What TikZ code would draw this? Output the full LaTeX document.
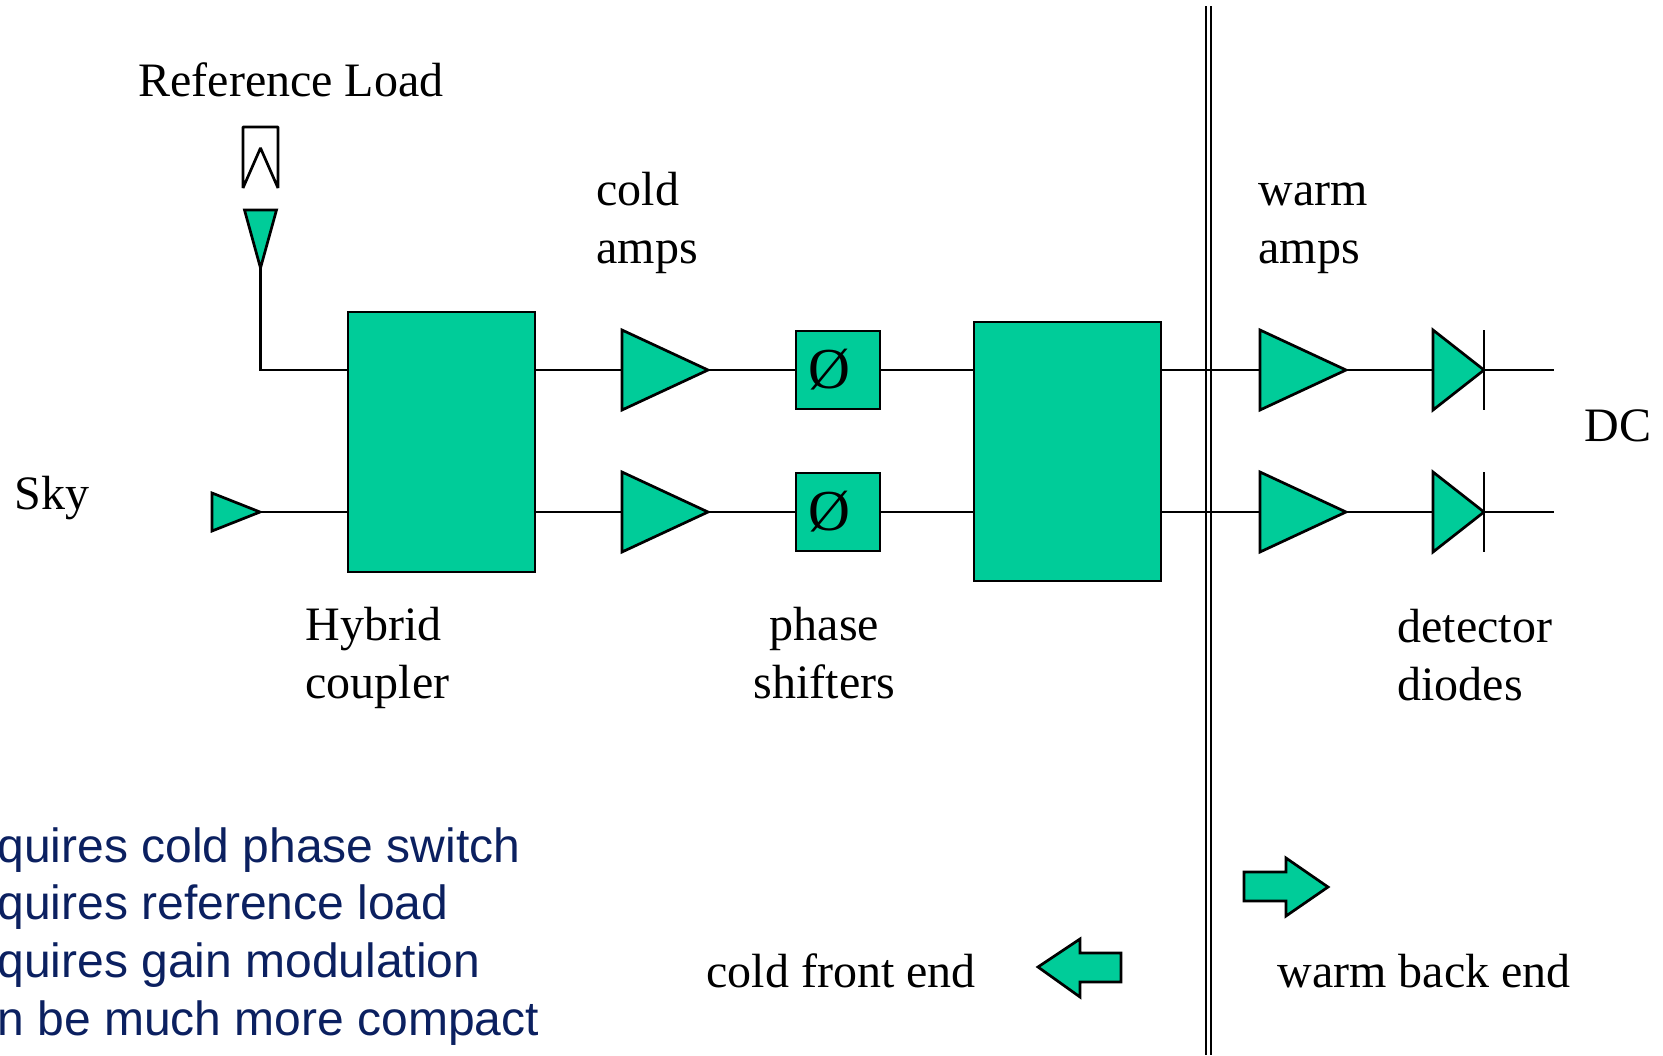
\documentclass[tikz,border=0pt]{standalone}
\usepackage{fontspec}
\setmainfont{Liberation Serif}
\newfontfamily\notefont{Liberation Sans}
\usetikzlibrary{shapes.geometric}
\definecolor{boxgreen}{HTML}{00CC99}
\definecolor{noteblue}{HTML}{0B2060}
\tikzset{
  wire/.style={line width=1.35pt},
  block/.style={draw, line width=1.35pt, fill=boxgreen, rectangle, inner sep=0pt, outer sep=0pt},
  phasebox/.style={block, minimum width=42pt, minimum height=39pt, font=\fontsize{29}{29}\selectfont},
  tri/.style={draw, line width=1.35pt, fill=boxgreen, isosceles triangle, isosceles triangle stretches, inner sep=0pt, outer sep=0pt, anchor=lower side},
  amp/.style={tri, minimum height=43pt, minimum width=40pt},
  diode/.style={tri, minimum height=25.5pt, minimum width=40pt},
  label/.style={inner sep=0pt, anchor=base west, align=left, font=\fontsize{24}{29}\selectfont},
  note/.style={label, text=noteblue, font=\fontsize{24}{29}\selectfont\notefont},
}
\begin{document}
\begin{tikzpicture}[x=0.5pt, y=-0.5pt]
    \useasboundingbox (0,0) rectangle (1663,1055);

    % reference load and its horn
    \draw[wire, line join=bevel] (243,188) -- (243,127) -- (278,127) -- (278,188) -- (260.5,148) -- cycle;
    \node[tri, minimum height=29pt, minimum width=16pt, shape border rotate=270] (refhorn) at (260.5,210) {};
    \node[tri, minimum height=24pt, minimum width=19pt] (skyhorn) at (212,512) {};

    % blocks
    \node[block, minimum width=93.5pt, minimum height=130pt] (hybrida) at (441.5,442) {};
    \node[block, minimum width=93.5pt, minimum height=129.5pt] (hybridb) at (1067.5,451.5) {};
    \node[phasebox] (phasea) at (838,370) {\kern-9pt Ø};
    \node[phasebox] (phaseb) at (838,512) {\kern-9pt Ø};

    % amplifiers and diodes
    \node[amp] (coldampa) at (622,370) {};
    \node[amp] (coldampb) at (622,512) {};
    \node[amp] (warmampa) at (1260,370) {};
    \node[amp] (warmampb) at (1260,512) {};
    \node[diode] (diodea) at (1433,370) {};
    \node[diode] (diodeb) at (1433,512) {};
    \coordinate (outa) at (1554,370);
    \coordinate (outb) at (1554,512);

    % connectors
    \draw[wire] (refhorn.apex) |- (hybrida.west |- coldampa.lower side);
    \draw[wire] (skyhorn.apex) -- (hybrida.west |- skyhorn.apex);
    \draw[wire] (hybrida.east |- coldampa.lower side) -- (coldampa.lower side);
    \draw[wire] (hybrida.east |- coldampb.lower side) -- (coldampb.lower side);
    \draw[wire] (coldampa.apex) -- (phasea.west);
    \draw[wire] (coldampb.apex) -- (phaseb.west);
    \draw[wire] (phasea.east) -- (hybridb.west |- phasea.east);
    \draw[wire] (phaseb.east) -- (hybridb.west |- phaseb.east);
    \draw[wire] (hybridb.east |- warmampa.lower side) -- (warmampa.lower side);
    \draw[wire] (hybridb.east |- warmampb.lower side) -- (warmampb.lower side);
    \draw[wire] (warmampa.apex) -- (diodea.lower side);
    \draw[wire] (warmampb.apex) -- (diodeb.lower side);
    \draw[wire] (diodea.apex) -- (outa);
    \draw[wire] (diodeb.apex) -- (outb);
    \draw[wire] (diodea.apex |- diodea.left corner) -- (diodea.apex |- diodea.right corner);
    \draw[wire] (diodeb.apex |- diodeb.left corner) -- (diodeb.apex |- diodeb.right corner);

    % cold/warm boundary
    \coordinate (walltopa) at (1206,6);
    \coordinate (walltopb) at (1211,6);
    \coordinate (wallenda) at (1206,1055);
    \coordinate (wallendb) at (1211,1055);
    \draw[wire] (walltopa) -- (wallenda);
    \draw[wire] (walltopb) -- (wallendb);

    % direction arrows
    \draw[wire, fill=boxgreen, line join=miter] (1244,872) -- (1286,872) -- (1286,858) -- (1328,887) -- (1286,916) -- (1286,901) -- (1244,901) -- cycle;
    \draw[wire, fill=boxgreen, line join=miter] (1121,953) -- (1080,953) -- (1080,939) -- (1038,967) -- (1080,997) -- (1080,982) -- (1121,982) -- cycle;

    % labels
    \node[label] (reflabel) at (138,96) {Reference Load};
    \node[label] (coldlabel) at (596,263) {cold\\amps};
    \node[label] (warmlabel) at (1258,263) {warm\\amps};
    \node[label] (skylabel) at (14,509) {Sky};
    \node[label] (hybridlabel) at (305,698) {Hybrid\\coupler};
    \node[label, align=center, anchor=base] (phaselabel) at (824.5,698) {phase\\shifters};
    \node[label] (detlabel) at (1397,700) {detector\\diodes};
    \node[label] (dclabel) at (1584,441) {DC};
    \node[label] (frontlabel) at (706,987) {cold front end};
    \node[label] (backlabel) at (1277,987) {warm back end};

    % notes, cut off at the left edge
    \node[note] (notea) at (-3,862) {quires cold phase switch};
    \node[note] (noteb) at (-3,919) {quires reference load};
    \node[note] (notec) at (-3,977) {quires gain modulation};
    \node[note] (noted) at (-3,1035) {n be much more compact};
\end{tikzpicture}
\end{document}
